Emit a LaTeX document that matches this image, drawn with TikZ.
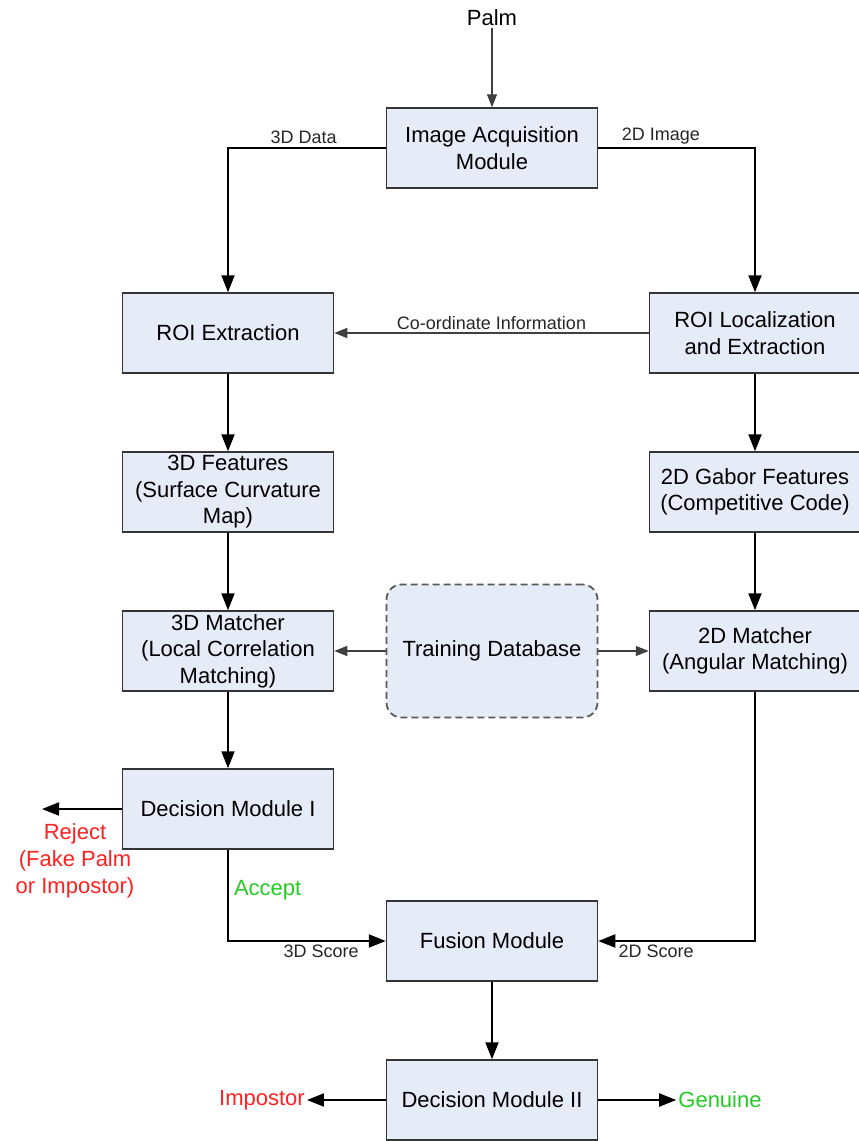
\documentclass[tikz,border=0pt]{standalone}
\usepackage{fontspec}
\setmainfont{Liberation Sans}
\usepackage{xcolor}
\usepackage{tikz}
\usetikzlibrary{arrows.meta, positioning, calc}
\definecolor{boxfill}{RGB}{230,236,247}
\definecolor{boxline}{RGB}{52,52,52}
\definecolor{rejred}{RGB}{255,32,32}
\definecolor{accgreen}{RGB}{34,204,34}

\begin{document}
\begin{tikzpicture}[x=1pt, y=-1pt,
    module/.style={draw=boxline, fill=boxfill, line width=1.5pt, minimum width=211pt,
      minimum height=80pt, align=center, inner sep=2pt, font=\fontsize{22}{26.5}\selectfont},
    flow/.style={draw=black, line width=2pt, -{Triangle[length=17pt,width=13pt]}},
    side/.style={draw=black!75, line width=1.2pt, -{Triangle[length=13pt,width=10pt]}},
    tag/.style={font=\fontsize{18}{21}\selectfont, text=black!85, inner sep=3pt},
    verdict/.style={font=\fontsize{22}{27}\selectfont, align=center, inner sep=2pt}
  ]
  \useasboundingbox (0,0) rectangle (859,1141);
  % Input and acquisition
  \node[verdict] (palm) at (492,18) {Palm};
  \node[module] (iam) at (492,148) {Image Acquisition\\Module};
  % Left column: 3D branch
  \node[module] (roi3d) at (228,333) {ROI Extraction};
  \node[module] (feat3d) at (228,492) {3D Features\\(Surface Curvature\\Map)};
  \node[module] (m3d) at (228,651) {3D Matcher\\(Local Correlation\\Matching)};
  \node[module] (dec1) at (228,809) {Decision Module I};
  % Right column: 2D branch
  \node[module] (roi2d) at (755,333) {ROI Localization\\and Extraction};
  \node[module] (feat2d) at (755,492) {2D Gabor Features\\(Competitive Code)};
  \node[module] (m2d) at (755,651) {2D Matcher\\(Angular Matching)};
  % Middle column
  \node[module, draw=black!65, line width=1.8pt, dash pattern=on 7pt off 4pt, rounded corners=15pt,
    minimum height=133pt] (db) at (492,651) {Training Database};
  \node[module] (fusion) at (492,941) {Fusion Module};
  \node[module] (dec2) at (492,1100) {Decision Module II};
  % Outcomes
  \coordinate (rejend) at (42,809);
  \node[verdict, text=rejred] (rejtxt) at (75,861) {Reject\\(Fake Palm\\or Impostor)};
  \node[verdict, text=rejred] (imp) at (262,1100) {Impostor};
  \node[verdict, text=accgreen] (gen) at (720,1100) {Genuine};

  % Connectors
  \draw[side] (palm) -- (iam);
  \draw[flow] (iam.west) -| node[tag, pos=0.26, above] {3D Data} (roi3d.north);
  \draw[flow] (iam.east) -| node[tag, pos=0.2, above] {2D Image} (roi2d.north);
  \draw[side] (roi2d.west) -- node[tag, above] {Co-ordinate Information} (roi3d.east);
  \draw[flow] (roi3d) -- (feat3d);
  \draw[flow] (feat3d) -- (m3d);
  \draw[flow] (m3d) -- (dec1);
  \draw[flow] (roi2d) -- (feat2d);
  \draw[flow] (feat2d) -- (m2d);
  \draw[side] (db.west) -- (m3d.east);
  \draw[side] (db.east) -- (m2d.west);
  \draw[flow] (dec1.west) -- (rejend);
  \draw[flow] (dec1.south) |- node[verdict, text=accgreen, pos=0.22, right, inner sep=5pt] {Accept}
    node[tag, pos=0.795, below] {3D Score} (fusion.west);
  \draw[flow] (m2d.south) |- node[tag, pos=0.815, below] {2D Score} (fusion.east);
  \draw[flow] (fusion) -- (dec2);
  \draw[flow] (dec2.west) -- (dec2.west -| imp.east);
  \draw[flow] (dec2.east) -- (dec2.east -| gen.west);
\end{tikzpicture}
\end{document}
